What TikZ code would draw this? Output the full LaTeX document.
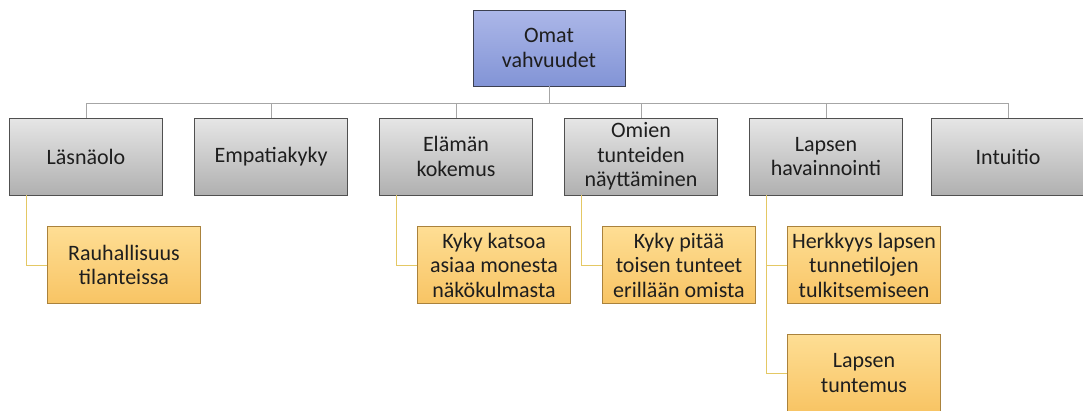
\documentclass[tikz,border=0pt]{standalone}
\usepackage{fontspec}
\setmainfont{Carlito}
\begin{document}
\begin{tikzpicture}[x=1pt,y=-1pt,
  base/.style={minimum width=153pt,minimum height=77pt,inner sep=1pt,align=center,
    font=\fontsize{22}{24.5}\selectfont,text={rgb,255:red,30;green,30;blue,30},line width=0.8pt},
  root/.style={base,draw={rgb,255:red,60;green,64;blue,80},top color={rgb,255:red,172;green,183;blue,232},bottom color={rgb,255:red,130;green,148;blue,214}},
  cat/.style={base,draw={rgb,255:red,80;green,80;blue,80},top color={rgb,255:red,230;green,230;blue,230},bottom color={rgb,255:red,176;green,176;blue,176}},
  sub/.style={base,draw={rgb,255:red,170;green,130;blue,60},top color={rgb,255:red,254;green,222;blue,148},bottom color={rgb,255:red,248;green,196;blue,100}},
  gline/.style={draw={rgb,255:red,166;green,166;blue,166},line width=1pt},
  yline/.style={draw={rgb,255:red,228;green,200;blue,100},line width=1pt}]
\useasboundingbox (0,0) rectangle (1083,410);
\node[root,minimum width=152pt,minimum height=76pt] (top) at (549,48) {Omat\\vahvuudet};
\node[cat] (c1) at (86,156.5) {Läsnäolo};
\node[cat] (c2) at (271,156.5) {Empatiakyky};
\node[cat] (c3) at (456,156.5) {Elämän\\kokemus};
\node[cat] (c4) at (641,156.5) {Omien\\tunteiden\\näyttäminen};
\node[cat] (c5) at (826,156.5) {Lapsen\\havainnointi};
\node[cat] (c6) at (1008,156.5) {Intuitio};
\node[sub] (s1) at (124,265) {Rauhallisuus\\tilanteissa};
\node[sub] (s3) at (494,265) {Kyky katsoa\\asiaa monesta\\näkökulmasta};
\node[sub] (s4) at (679,265) {Kyky pitää\\toisen tunteet\\erillään omista};
\node[sub] (s5a) at (864,265) {Herkkyys lapsen\\tunnetilojen\\tulkitsemiseen};
\node[sub] (s5b) at (864,373) {Lapsen\\tuntemus};
\coordinate (bus) at (549,103);
\draw[gline] (top.south) -- (bus);
\foreach \c in {c1,c2,c3,c4,c5,c6}{
  \draw[gline] (\c.north) |- (bus);
}
\draw[yline] ([xshift=17pt]c1.south west) |- (s1.west);
\draw[yline] ([xshift=17pt]c3.south west) |- (s3.west);
\draw[yline] ([xshift=17pt]c4.south west) |- (s4.west);
\draw[yline] ([xshift=17pt]c5.south west) |- (s5a.west);
\draw[yline] ([xshift=17pt]c5.south west) |- (s5b.west);
\end{tikzpicture}
\end{document}
